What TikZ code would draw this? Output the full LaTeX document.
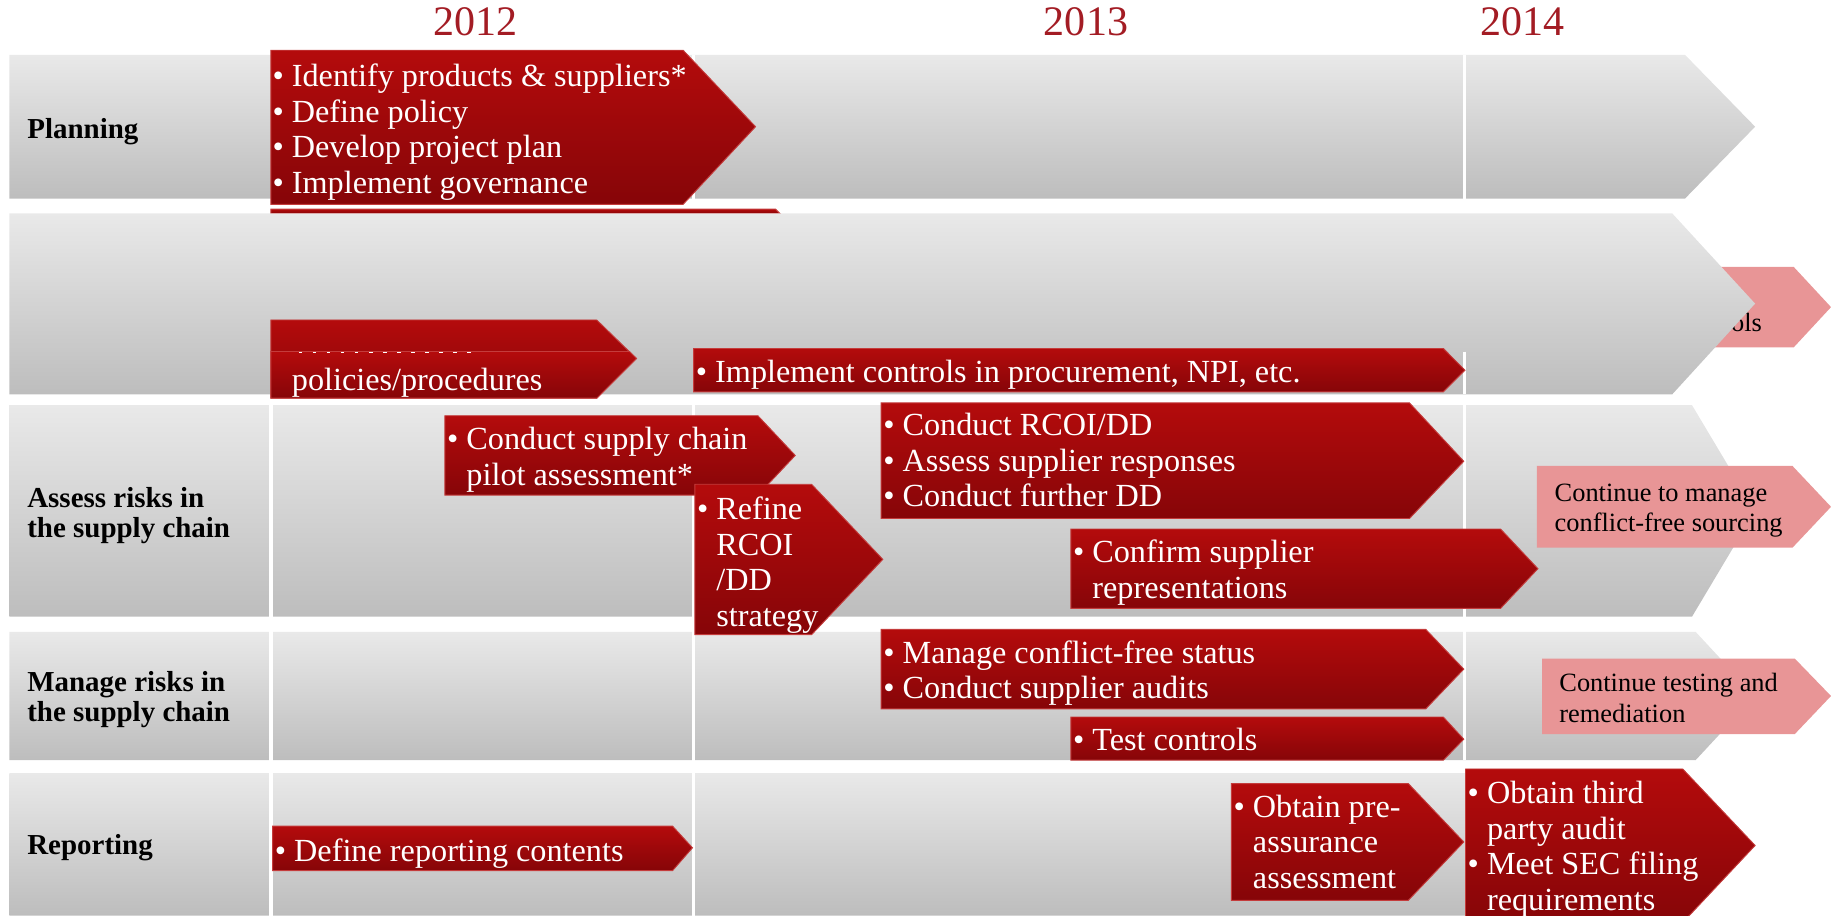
\documentclass[tikz,border=0pt]{standalone}
\usepackage{fontspec}
\setmainfont{Liberation Serif}

\definecolor{rowtop}{RGB}{233,233,233}
\definecolor{rowbot}{RGB}{189,189,189}
\definecolor{redtop}{RGB}{180,11,12}
\definecolor{redbot}{RGB}{134,5,8}
\definecolor{rededge}{RGB}{196,60,60}
\definecolor{pinkfill}{RGB}{232,149,150}
\definecolor{yearred}{RGB}{163,28,36}

\begin{document}
\begin{tikzpicture}[x=0.5pt,y=-0.5pt,
  greyrow/.style={top color=rowtop,bottom color=rowbot},
  redarrow/.style={top color=redtop,bottom color=redbot,draw=rededge,line width=0.4pt},
  pinkarrow/.style={fill=pinkfill},
  divider/.style={draw=white,line width=1.5pt},
  itemtxt/.style={text=white,font=\fontsize{13.8}{15.2}\selectfont,align=left,
    anchor=north west,inner sep=0pt,execute at begin node=\strut},
  notetxt/.style={text=black,font=\fontsize{11.3}{13}\selectfont,align=left,
    anchor=north west,inner sep=0pt,execute at begin node=\strut},
  rowlbl/.style={font=\bfseries\fontsize{12.4}{12.7}\selectfont,align=left,
    anchor=north west,inner sep=0pt,execute at begin node=\strut},
  yearlbl/.style={text=yearred,font=\fontsize{18}{20}\selectfont,anchor=base}]
\useasboundingbox (0,0) rectangle (1568,784);
% years
\node[yearlbl] (y2012) at (407,30) {2012};
\node[yearlbl] (y2013) at (930,30) {2013};
\node[yearlbl] (y2014) at (1304,30) {2014};
% grey rows
\shade[greyrow] (8,47) -- (1443,47) -- (1503,108.5) -- (1443,170) -- (8,170) -- cycle;
\fill[pinkarrow] (1420,228.5) -- (1536,228.5) -- (1568,263) -- (1536,297.5) -- (1420,297.5) -- cycle;
\node[notetxt,anchor=base west] (ols) at (1482,283.5) {ols};
\shade[redarrow] (232,179) -- (664,179) -- (668,183) -- (232,183) -- cycle;
\shade[greyrow] (8,182.7) -- (1432,182.7) -- (1503,260) -- (1432,337.7) -- (8,337.7) -- cycle;
\shade[greyrow] (8,347) -- (1449,347) -- (1503,437.5) -- (1449,528) -- (8,528) -- cycle;
\shade[greyrow] (8,541) -- (1452,541) -- (1503,596) -- (1452,651) -- (8,651) -- cycle;
\shade[greyrow] (8,662) -- (1300,662) -- (1360,723) -- (1300,784) -- (8,784) -- cycle;
% year dividers
\draw[divider] (594,47) -- (594,170);
\draw[divider] (1254,47) -- (1254,170);
\draw[divider] (1254,301) -- (1254,337.7);
\draw[divider] (232,347) -- (232,784);
\draw[divider] (594,347) -- (594,784);
\draw[divider] (1254,347) -- (1254,651);
% red arrows
\shade[redarrow] (232,43) -- (585,43) -- (647,108.5) -- (585,175) -- (232,175) -- cycle;
\shade[redarrow] (232,274) -- (511,274) -- (545,307) -- (511,341) -- (232,341) -- cycle;
\shade[redarrow] (232,301) -- (539,301) -- (545,307) -- (511,341) -- (232,341) -- cycle;
\draw[white,line width=0.4pt,dash pattern=on 1.5pt off 4.5pt] (256,302) -- (410,302);
\shade[redarrow] (594,298.4) -- (1236,298.4) -- (1254.5,317) -- (1236,335.5) -- (594,335.5) -- cycle;
\shade[redarrow] (381,356) -- (649,356) -- (681,390) -- (649,424) -- (381,424) -- cycle;
\shade[redarrow] (595,414.7) -- (695,414.7) -- (756,479) -- (695,543.5) -- (595,543.5) -- cycle;
\shade[redarrow] (754.5,345) -- (1207,345) -- (1253.5,395) -- (1207,444) -- (754.5,444) -- cycle;
\shade[redarrow] (917,453) -- (1285,453) -- (1317,487) -- (1285,521) -- (917,521) -- cycle;
\shade[redarrow] (754.5,539) -- (1221,539) -- (1253.5,573) -- (1221,607) -- (754.5,607) -- cycle;
\shade[redarrow] (917,614) -- (1236,614) -- (1253.5,633) -- (1236,651) -- (917,651) -- cycle;
\shade[redarrow] (233.5,707.5) -- (576,707.5) -- (593,726) -- (576,745.5) -- (233.5,745.5) -- cycle;
\shade[redarrow] (1054.5,671) -- (1206,671) -- (1253.5,721) -- (1206,771) -- (1054.5,771) -- cycle;
\shade[redarrow] (1255,658.5) -- (1441,658.5) -- (1503,724) -- (1441,790) -- (1255,790) -- cycle;
% pink arrows
\fill[pinkarrow] (1316,399) -- (1535,399) -- (1568,434) -- (1535,469) -- (1316,469) -- cycle;
\fill[pinkarrow] (1320.5,564) -- (1537,564) -- (1568,596) -- (1537,628.6) -- (1320.5,628.6) -- cycle;
% row labels
\node[rowlbl] (planning) at (23,100.5) {Planning};
\node[rowlbl] (assess) at (23,417.2) {Assess risks in\\the supply chain};
\node[rowlbl] (manage) at (23,574.5) {Manage risks in\\the supply chain};
\node[rowlbl] (reporting) at (23,713.5) {Reporting};
% texts
\node[itemtxt] (plan) at (233,54.3) {\textbullet\ Identify products \& suppliers*\\
  \textbullet\ Define policy\\\textbullet\ Develop project plan\\\textbullet\ Implement governance};
\node[itemtxt] (policies) at (233,312.5) {\phantom{\textbullet\ }policies/procedures};
\node[itemtxt] (ctrls) at (595.5,306.2) {\textbullet\ Implement controls in procurement, NPI, etc.};
\node[itemtxt] (pilot) at (382.5,365.5) {\textbullet\ Conduct supply chain\\\phantom{\textbullet\ }pilot assessment*};
\node[itemtxt] (refine) at (596.5,425.3) {\textbullet\ Refine\\\phantom{\textbullet\ }RCOI\\
  \phantom{\textbullet\ }/DD\\\phantom{\textbullet\ }strategy};
\node[itemtxt] (rcoi) at (756,353.7) {\textbullet\ Conduct RCOI/DD\\
  \textbullet\ Assess supplier responses\\\textbullet\ Conduct further DD};
\node[itemtxt] (confirm) at (918.5,462.2) {\textbullet\ Confirm supplier\\\phantom{\textbullet\ }representations};
\node[itemtxt] (status) at (756,548.2) {\textbullet\ Manage conflict-free status\\\textbullet\ Conduct supplier audits};
\node[itemtxt] (test) at (918.5,621) {\textbullet\ Test controls};
\node[itemtxt] (contents) at (235,715.7) {\textbullet\ Define reporting contents};
\node[itemtxt] (preassur) at (1056,680.5) {\textbullet\ Obtain pre-\\\phantom{\textbullet\ }assurance\\
  \phantom{\textbullet\ }assessment};
\node[itemtxt] (audit) at (1256.5,668.7) {\textbullet\ Obtain third\\\phantom{\textbullet\ }party audit\\
  \textbullet\ Meet SEC filing\\\phantom{\textbullet\ }requirements};
\node[notetxt] (sourcing) at (1331,413.8) {Continue to manage\\conflict-free sourcing};
\node[notetxt] (remed) at (1335,576.5) {Continue testing and\\remediation};
\end{tikzpicture}
\end{document}
